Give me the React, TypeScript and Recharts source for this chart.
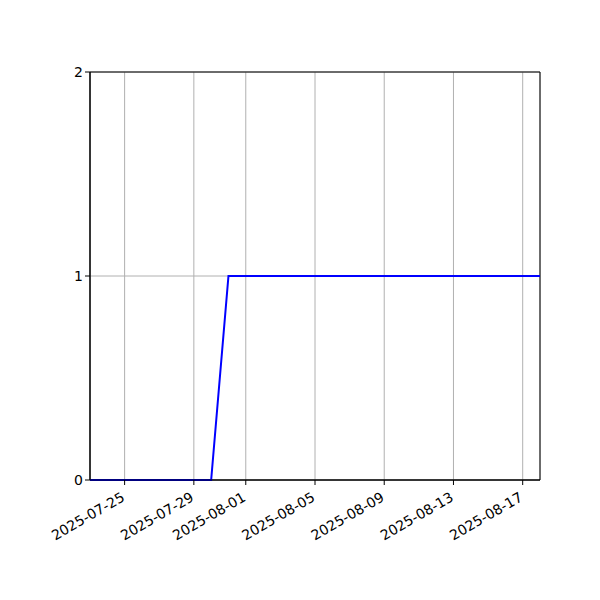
import React from "react";
import {
  LineChart,
  Line,
  XAxis,
  YAxis,
  CartesianGrid,
  ReferenceArea,
} from "recharts";

// daily dates from 2025-07-23 to 2025-08-18
const dates = [
  "2025-07-23", "2025-07-24", "2025-07-25", "2025-07-26", "2025-07-27",
  "2025-07-28", "2025-07-29", "2025-07-30", "2025-07-31", "2025-08-01",
  "2025-08-02", "2025-08-03", "2025-08-04", "2025-08-05", "2025-08-06",
  "2025-08-07", "2025-08-08", "2025-08-09", "2025-08-10", "2025-08-11",
  "2025-08-12", "2025-08-13", "2025-08-14", "2025-08-15", "2025-08-16",
  "2025-08-17", "2025-08-18",
];
const counts = [
  0, 0, 0, 0, 0, 0, 0, 0, 1, 1,
  1, 1, 1, 1, 1, 1, 1, 1, 1, 1,
  1, 1, 1, 1, 1, 1, 1,
];
const xTickLabels = [
  "2025-07-25", "2025-07-29", "2025-08-01", "2025-08-05",
  "2025-08-09", "2025-08-13", "2025-08-17",
];
const yTicks = [0, 1, 2];

const data = dates.map((d, i) => ({ t: i, count: counts[i] }));
const xTicks = xTickLabels.map((l) => dates.indexOf(l));

const FONT = "'DejaVu Sans', sans-serif";

function DateTick(props: any) {
  const { x, y, payload } = props;
  const tx = x + 1;
  const ty = y + 13;
  return (
    <text
      x={tx}
      y={ty}
      transform={`rotate(-30, ${tx}, ${ty})`}
      textAnchor="end"
      fontSize={14}
      fontFamily={FONT}
      fill="#000"
    >
      {dates[payload.value]}
    </text>
  );
}

export default function App() {
  return (
    <div style={{ position: "absolute", left: 0, top: 0, background: "#fff" }}>
      <LineChart
        width={600}
        height={600}
        data={data}
        margin={{ top: 72, right: 60, bottom: 60, left: 0 }}
      >
        <CartesianGrid stroke="#b0b0b0" strokeWidth={1} />
        <XAxis
          dataKey="t"
          type="number"
          domain={[0, dates.length - 1]}
          ticks={xTicks}
          tick={<DateTick />}
          tickSize={5}
          tickLine={{ stroke: "#000" }}
          axisLine={{ stroke: "#000" }}
          height={60}
          interval={0}
        />
        <YAxis
          type="number"
          domain={[0, 2]}
          ticks={yTicks}
          width={90}
          tickSize={5}
          tickLine={{ stroke: "#000" }}
          axisLine={{ stroke: "#000" }}
          tick={{ fontSize: 14, fontFamily: FONT, fill: "#000" }}
        />
        <ReferenceArea
          x1={0}
          x2={dates.length - 1}
          y1={0}
          y2={2}
          fill="none"
          stroke="#000"
          strokeWidth={1}
        />
        <Line
          dataKey="count"
          stroke="#0000ff"
          strokeWidth={2}
          dot={false}
          isAnimationActive={false}
        />
      </LineChart>
    </div>
  );
}
